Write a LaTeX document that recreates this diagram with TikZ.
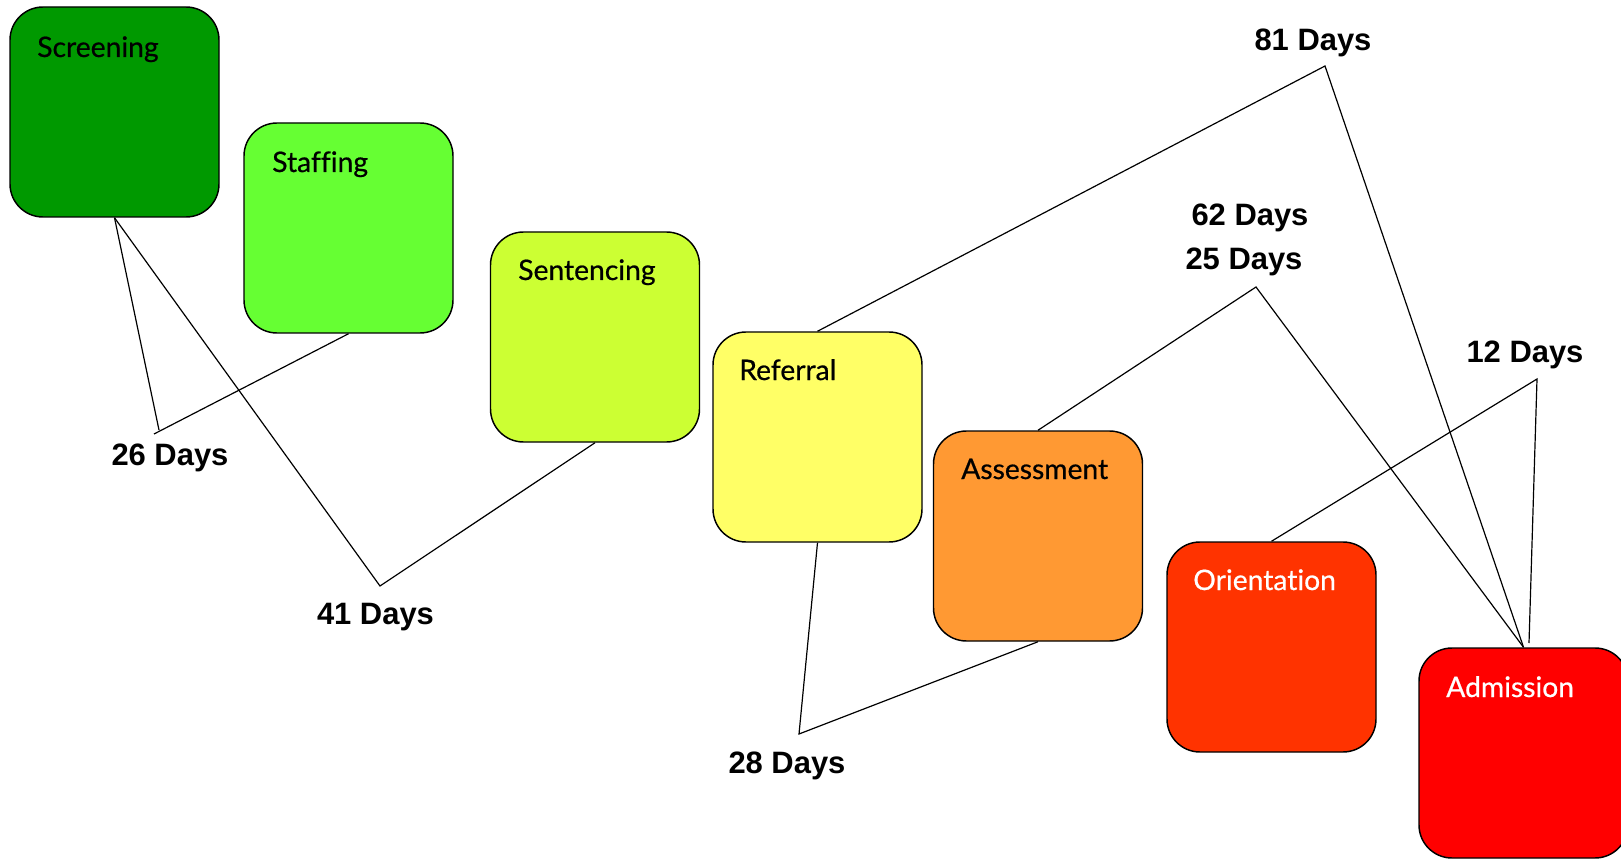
\documentclass[tikz,border=0pt]{standalone}
\usepackage{fontspec}
\setmainfont{Lato}[Ligatures=NoCommon,FakeBold=0.6]
\newfontfamily\daysfont{Liberation Sans}
\definecolor{c1}{RGB}{0,153,0}
\definecolor{c2}{RGB}{102,255,51}
\definecolor{c3}{RGB}{204,255,51}
\definecolor{c4}{RGB}{255,255,102}
\definecolor{c5}{RGB}{255,153,51}
\definecolor{c6}{RGB}{255,51,0}
\definecolor{c7}{RGB}{255,0,0}

\begin{document}
\begin{tikzpicture}[x=0.75pt,y=-0.75pt,
  box/.style={draw,line width=1.1pt,rounded corners=24.75pt,minimum width=156.75pt,minimum height=157.5pt,inner sep=0pt},
  title/.style={anchor=base west,inner sep=0pt,font=\fontsize{21.2}{24}\selectfont},
  days/.style={anchor=base,inner sep=0pt,font=\daysfont\bfseries\fontsize{23.2}{26}\selectfont},
  link/.style={line width=0.9pt}]
\useasboundingbox (0,0) rectangle (1621,859);

%%% Boxes
\node[box,fill=c1] (scr) at (114.5,112) {};
\node[box,fill=c2] (stf) at (348.5,228) {};
\node[box,fill=c3] (sen) at (595,337) {};
\node[box,fill=c4] (ref) at (817.5,437) {};
\node[box,fill=c5] (ass) at (1038,536) {};
\node[box,fill=c6] (ori) at (1271.5,647) {};
\node[box,fill=c7] (adm) at (1523.5,753) {};

%%% Titles
\node[title] (scrt) at (37,57) {Screening};
\node[title] (stft) at (272,172) {Staffing};
\node[title] (sent) at (518,280) {Sentencing};
\node[title] (reft) at (739,380) {Referral};
\node[title] (asst) at (961,479) {Assessment};
\node[title,white] (orit) at (1193,590) {Orientation};
\node[title,white] (admt) at (1446,697) {Admission};

%%% Vertices
\coordinate (v26) at (159,430);
\coordinate (v26x) at (154,434);
\coordinate (v41) at (380,586);
\coordinate (v28) at (799,734);
\coordinate (v81) at (1325,66);
\coordinate (v25) at (1256,287);
\coordinate (v12) at (1537,379);
\coordinate (a12) at (1529,643);

%%% Connectors
\draw[link] (scr.south) -- (v26);
\draw[link] (stf.south) -- (v26x);
\draw[link] (scr.south) -- (v41) -- (sen.south);
\draw[link] (ref.south) -- (v28) -- (ass.south);
\draw[link] (ref.north) -- (v81) -- (adm.north);
\draw[link] (ass.north) -- (v25) -- (adm.north);
\draw[link] (ori.north) -- (v12) -- (a12);

%%% Labels
\node[days] (d26) at (170,465) {26 Days};
\node[days] (d41) at (375.5,624) {41 Days};
\node[days] (d28) at (787,773) {28 Days};
\node[days] (d81) at (1313,51) {81 Days};
\node[days] (d62) at (1250,226) {62 Days};
\node[days] (d25) at (1244,270) {25 Days};
\node[days] (d12) at (1525,363) {12 Days};
\end{tikzpicture}
\end{document}
